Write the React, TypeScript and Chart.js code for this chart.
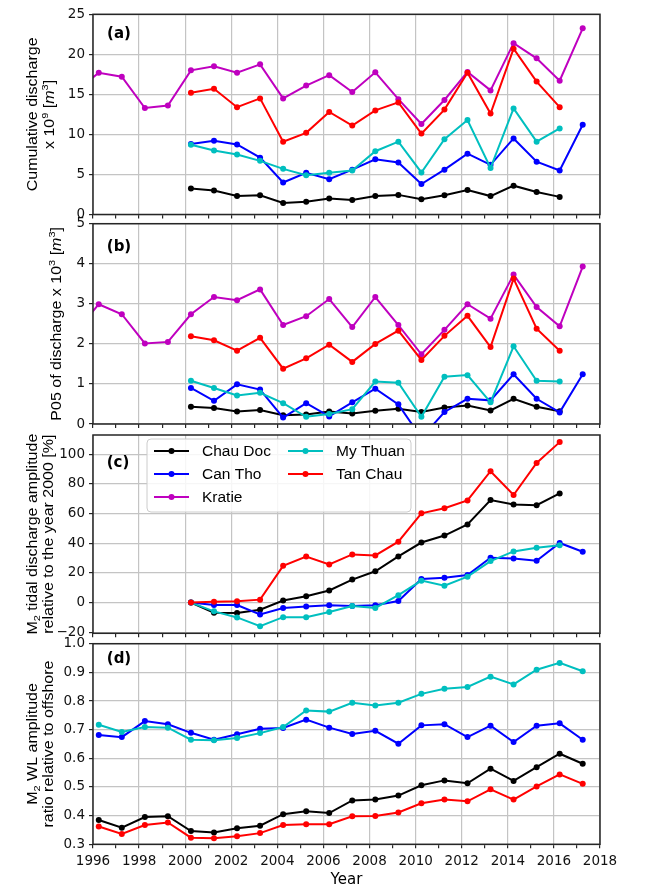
import { useEffect, useRef } from 'react';
import { Chart, registerables } from 'chart.js';

Chart.register(...registerables);

// ---------------- data ----------------
const YEARS_KRATIE = [1995, 1996, 1997, 1998, 1999, 2000, 2001, 2002, 2003, 2004, 2005, 2006, 2007, 2008, 2009, 2010, 2011, 2012, 2013, 2014, 2015, 2016, 2017];
const YEARS_2000_2016 = [2000, 2001, 2002, 2003, 2004, 2005, 2006, 2007, 2008, 2009, 2010, 2011, 2012, 2013, 2014, 2015, 2016];
const YEARS_2000_2017 = [2000, 2001, 2002, 2003, 2004, 2005, 2006, 2007, 2008, 2009, 2010, 2011, 2012, 2013, 2014, 2015, 2016, 2017];
const YEARS_1996_2017 = [1996, 1997, 1998, 1999, 2000, 2001, 2002, 2003, 2004, 2005, 2006, 2007, 2008, 2009, 2010, 2011, 2012, 2013, 2014, 2015, 2016, 2017];
const X_SHIFT = 0.25; // values are plotted a quarter year after the year start

// (a) cumulative discharge x 10^9 m^3
const KRATIE_A = [15.4, 17.7, 17.2, 13.3, 13.6, 18.0, 18.5, 17.7, 18.75, 14.5, 16.1, 17.4, 15.3, 17.75, 14.4, 11.3, 14.3, 17.8, 15.5, 21.4, 19.5, 16.7, 23.25];
const TAN_CHAU_A = [15.2, 15.7, 13.4, 14.5, 9.1, 10.2, 12.8, 11.1, 13.0, 14.0, 10.1, 13.1, 17.7, 12.6, 20.7, 16.6, 13.4];
const CAN_THO_A = [8.8, 9.2, 8.75, 7.1, 4.0, 5.2, 4.4, 5.6, 6.9, 6.5, 3.8, 5.6, 7.6, 6.2, 9.5, 6.6, 5.5, 11.2];
const MY_THUAN_A = [8.7, 8.0, 7.5, 6.7, 5.7, 4.9, 5.2, 5.5, 7.9, 9.1, 5.25, 9.4, 11.8, 5.8, 13.25, 9.1, 10.75];
const CHAU_DOC_A = [3.25, 3.0, 2.3, 2.4, 1.45, 1.6, 2.0, 1.8, 2.3, 2.45, 1.9, 2.4, 3.05, 2.3, 3.6, 2.8, 2.2];

// (b) P05 of discharge x 10^3 m^3
const KRATIE_B = [2.3, 2.99, 2.74, 2.01, 2.05, 2.74, 3.17, 3.09, 3.36, 2.47, 2.69, 3.12, 2.42, 3.17, 2.47, 1.74, 2.35, 2.99, 2.63, 3.73, 2.92, 2.44, 3.93];
const TAN_CHAU_B = [2.19, 2.09, 1.83, 2.15, 1.38, 1.64, 1.98, 1.55, 2.0, 2.33, 1.6, 2.2, 2.7, 1.92, 3.63, 2.38, 1.83];
const MY_THUAN_B = [1.08, 0.9, 0.71, 0.78, 0.52, 0.18, 0.25, 0.37, 1.06, 1.03, 0.18, 1.18, 1.22, 0.54, 1.94, 1.08, 1.06];
const CAN_THO_B = [0.9, 0.58, 0.99, 0.86, 0.16, 0.52, 0.19, 0.54, 0.88, 0.49, -0.35, 0.3, 0.63, 0.59, 1.24, 0.63, 0.29, 1.24];
const CHAU_DOC_B = [0.43, 0.4, 0.31, 0.35, 0.22, 0.24, 0.31, 0.26, 0.33, 0.38, 0.3, 0.41, 0.46, 0.34, 0.63, 0.43, 0.32];

// (c) M2 tidal discharge amplitude relative to 2000 [%]
const CHAU_DOC_C = [0, -6.8, -7.0, -4.8, 1.4, 4.3, 8.2, 15.5, 21.1, 31.1, 40.5, 45.2, 52.7, 69.1, 66.1, 65.7, 73.6];
const CAN_THO_C = [0, -1.6, -1.6, -8.0, -3.6, -2.7, -1.8, -2.3, -1.8, 1.1, 15.9, 16.8, 18.6, 30.2, 29.8, 28.2, 40.2, 34.3];
const MY_THUAN_C = [0, -5.9, -10.0, -15.9, -9.8, -9.8, -6.4, -2.3, -3.6, 5.0, 14.8, 11.4, 17.5, 28.0, 34.5, 37.0, 38.6];
const TAN_CHAU_C = [0, 0.5, 0.9, 2.0, 24.8, 31.1, 25.7, 32.5, 31.8, 41.1, 60.2, 63.6, 68.9, 88.6, 72.5, 94.1, 108.2];

// (d) M2 WL amplitude ratio relative to offshore
const MY_THUAN_D = [0.717, 0.692, 0.709, 0.707, 0.665, 0.663, 0.671, 0.688, 0.709, 0.767, 0.763, 0.794, 0.784, 0.794, 0.825, 0.843, 0.849, 0.885, 0.858, 0.909, 0.933, 0.904];
const CAN_THO_D = [0.681, 0.674, 0.730, 0.719, 0.689, 0.665, 0.684, 0.703, 0.706, 0.735, 0.707, 0.685, 0.696, 0.651, 0.715, 0.719, 0.674, 0.714, 0.657, 0.714, 0.722, 0.665];
const CHAU_DOC_D = [0.385, 0.358, 0.395, 0.398, 0.346, 0.341, 0.356, 0.365, 0.405, 0.415, 0.409, 0.453, 0.456, 0.470, 0.506, 0.523, 0.513, 0.564, 0.521, 0.569, 0.616, 0.581];
const TAN_CHAU_D = [0.362, 0.336, 0.367, 0.376, 0.323, 0.321, 0.328, 0.339, 0.367, 0.370, 0.370, 0.398, 0.399, 0.411, 0.443, 0.456, 0.450, 0.492, 0.456, 0.502, 0.544, 0.511];

// ticks
const X_TICKS = [1996, 1997, 1998, 1999, 2000, 2001, 2002, 2003, 2004, 2005, 2006, 2007, 2008, 2009, 2010, 2011, 2012, 2013, 2014, 2015, 2016, 2017, 2018];
const Y_TICKS_A = [0, 5, 10, 15, 20, 25];
const Y_TICKS_B = [0, 1, 2, 3, 4, 5];
const Y_TICKS_C = [-20, 0, 20, 40, 60, 80, 100];
const Y_TICKS_D = [0.3, 0.4, 0.5, 0.6, 0.7, 0.8, 0.9, 1.0];

// ---------------- styles / layout ----------------
const W = 652;
const H = 888;
const PLOT_LEFT = 93;
const PLOT_RIGHT = 600;
const COLORS: Record<string, string> = {
  'Chau Doc': '#000000',
  'Can Tho': '#0000ff',
  'Kratie': '#bf00bf',
  'My Thuan': '#00bfbf',
  'Tan Chau': '#ff0000',
};
const GRID = '#c4c4c4';
const FRAME = '#262626';
const TICK_FONT = { family: '"DejaVu Sans"', size: 13.5 };
const TITLE_FAMILY = '"Liberation Sans", Arial, sans-serif';

type Seg = { t: string; it?: boolean; sup?: boolean; sub?: boolean };
type Series = { name: string; years: number[]; values: number[] };
type Panel = {
  top: number;
  bottom: number;
  xAxisH: number;
  yMin: number;
  yMax: number;
  yTicks: number[];
  fmt: (v: number) => string;
  label: string;
  labelPos: [number, number];
  titleLines: Seg[][];
  titleX: number[];
  series: Series[];
  legend: boolean;
  xLabels: boolean;
};

const intFmt = (v: number) => (v < 0 ? '\u2212' + Math.abs(v) : String(v));
const oneDec = (v: number) => v.toFixed(1);

const PANELS: Panel[] = [
  {
    top: 14.3, bottom: 214.5, xAxisH: 8, yMin: 0, yMax: 25, yTicks: Y_TICKS_A, fmt: intFmt,
    label: '(a)', labelPos: [119, 34],
    titleLines: [
      [{ t: 'Cumulative discharge' }],
      [{ t: 'x 10' }, { t: '9', sup: true }, { t: ' [' }, { t: 'm', it: true }, { t: '3', sup: true }, { t: ']' }],
    ],
    titleX: [32, 48.5],
    series: [
      { name: 'Chau Doc', years: YEARS_2000_2016, values: CHAU_DOC_A },
      { name: 'Can Tho', years: YEARS_2000_2017, values: CAN_THO_A },
      { name: 'Kratie', years: YEARS_KRATIE, values: KRATIE_A },
      { name: 'My Thuan', years: YEARS_2000_2016, values: MY_THUAN_A },
      { name: 'Tan Chau', years: YEARS_2000_2016, values: TAN_CHAU_A },
    ],
    legend: false, xLabels: false,
  },
  {
    top: 223.7, bottom: 424, xAxisH: 8, yMin: 0, yMax: 5, yTicks: Y_TICKS_B, fmt: intFmt,
    label: '(b)', labelPos: [119, 247],
    titleLines: [
      [{ t: 'P05 of discharge x 10' }, { t: '3', sup: true }, { t: ' [' }, { t: 'm', it: true }, { t: '3', sup: true }, { t: ']' }],
    ],
    titleX: [56],
    series: [
      { name: 'Chau Doc', years: YEARS_2000_2016, values: CHAU_DOC_B },
      { name: 'Can Tho', years: YEARS_2000_2017, values: CAN_THO_B },
      { name: 'Kratie', years: YEARS_KRATIE, values: KRATIE_B },
      { name: 'My Thuan', years: YEARS_2000_2016, values: MY_THUAN_B },
      { name: 'Tan Chau', years: YEARS_2000_2016, values: TAN_CHAU_B },
    ],
    legend: false, xLabels: false,
  },
  {
    top: 435, bottom: 633.3, xAxisH: 8, yMin: -20.7, yMax: 113, yTicks: Y_TICKS_C, fmt: intFmt,
    label: '(c)', labelPos: [118, 463],
    titleLines: [
      [{ t: 'M' }, { t: '2', sub: true }, { t: ' tidal discharge amplitude' }],
      [{ t: 'relative to the year 2000 [%]' }],
    ],
    titleX: [31.5, 47.5],
    series: [
      { name: 'Chau Doc', years: YEARS_2000_2016, values: CHAU_DOC_C },
      { name: 'Can Tho', years: YEARS_2000_2017, values: CAN_THO_C },
      { name: 'Kratie', years: [], values: [] },
      { name: 'My Thuan', years: YEARS_2000_2016, values: MY_THUAN_C },
      { name: 'Tan Chau', years: YEARS_2000_2016, values: TAN_CHAU_C },
    ],
    legend: true, xLabels: false,
  },
  {
    top: 643.7, bottom: 844.3, xAxisH: 30, yMin: 0.3, yMax: 1.0, yTicks: Y_TICKS_D, fmt: oneDec,
    label: '(d)', labelPos: [119, 659],
    titleLines: [
      [{ t: 'M' }, { t: '2', sub: true }, { t: ' WL amplitude' }],
      [{ t: 'ratio relative to offshore' }],
    ],
    titleX: [31.5, 47.5],
    series: [
      { name: 'Chau Doc', years: YEARS_1996_2017, values: CHAU_DOC_D },
      { name: 'Can Tho', years: YEARS_1996_2017, values: CAN_THO_D },
      { name: 'My Thuan', years: YEARS_1996_2017, values: MY_THUAN_D },
      { name: 'Tan Chau', years: YEARS_1996_2017, values: TAN_CHAU_D },
    ],
    legend: false, xLabels: true,
  },
];

function drawRotatedRich(ctx: CanvasRenderingContext2D, segs: Seg[], cx: number, cy: number, size: number, squeeze: number) {
  ctx.save();
  ctx.translate(cx, cy);
  ctx.rotate(-Math.PI / 2);
  ctx.scale(1, squeeze);
  const fonts = segs.map((s) => `${s.it ? 'italic ' : ''}${s.sup || s.sub ? Math.round(size * 0.7) : size}px ${TITLE_FAMILY}`);
  const widths = segs.map((s, i) => {
    ctx.font = fonts[i];
    return ctx.measureText(s.t).width;
  });
  const total = widths.reduce((a, b) => a + b, 0);
  let x = -total / 2;
  const base = size * 0.36;
  ctx.fillStyle = '#000';
  ctx.textAlign = 'left';
  ctx.textBaseline = 'alphabetic';
  segs.forEach((s, i) => {
    ctx.font = fonts[i];
    const dy = s.sup ? -size * 0.42 : s.sub ? size * 0.24 : 0;
    ctx.fillText(s.t, x, base + dy);
    x += widths[i];
  });
  ctx.restore();
}

function makeDecor(p: Panel) {
  return {
    id: 'decor',
    afterDatasetsDraw(chart: any) {
      const ctx: CanvasRenderingContext2D = chart.ctx;
      if (p.legend) {
        const bx = 147, by = 439, bw = 264, bh = 73;
        ctx.save();
        ctx.beginPath();
        (ctx as any).roundRect(bx, by, bw, bh, 4);
        ctx.fillStyle = 'rgba(255,255,255,0.85)';
        ctx.fill();
        ctx.strokeStyle = '#cccccc';
        ctx.lineWidth = 1;
        ctx.stroke();
        const rows = [451, 474, 497];
        const cols = [{ l0: 154, l1: 189, tx: 202 }, { l0: 288, l1: 323, tx: 336 }];
        chart.data.datasets.forEach((ds: any, i: number) => {
          const col = cols[Math.floor(i / 3)];
          const y = rows[i % 3];
          ctx.strokeStyle = ds.borderColor;
          ctx.lineWidth = 2;
          ctx.beginPath();
          ctx.moveTo(col.l0, y);
          ctx.lineTo(col.l1, y);
          ctx.stroke();
          ctx.fillStyle = ds.borderColor;
          ctx.beginPath();
          ctx.arc((col.l0 + col.l1) / 2, y, 3, 0, Math.PI * 2);
          ctx.fill();
          ctx.fillStyle = '#000';
          ctx.font = `15.5px ${TITLE_FAMILY}`;
          ctx.textAlign = 'left';
          ctx.textBaseline = 'middle';
          ctx.fillText(ds.label, col.tx, y + 0.5);
        });
        ctx.restore();
      }
    },
    afterDraw(chart: any) {
      const ctx: CanvasRenderingContext2D = chart.ctx;
      const ca = chart.chartArea;
      ctx.save();
      ctx.strokeStyle = FRAME;
      ctx.lineWidth = 1.5;
      ctx.strokeRect(ca.left, ca.top, ca.right - ca.left, ca.bottom - ca.top);
      ctx.fillStyle = '#000';
      ctx.font = 'bold 15px "DejaVu Sans"';
      ctx.textAlign = 'center';
      ctx.textBaseline = 'middle';
      ctx.fillText(p.label, p.labelPos[0], p.labelPos[1]);
      const cy = (ca.top + ca.bottom) / 2;
      p.titleLines.forEach((segs, i) => drawRotatedRich(ctx, segs, p.titleX[i], cy, 16, 0.9));
      if (p.xLabels) {
        ctx.fillStyle = '#000';
        ctx.font = '15px "DejaVu Sans"';
        ctx.textAlign = 'center';
        ctx.textBaseline = 'alphabetic';
        ctx.fillText('Year', (ca.left + ca.right) / 2, 884);
      }
      ctx.restore();
    },
  };
}

function buildConfig(p: Panel): any {
  const n = p.series.length;
  const datasets = p.series.map((s, i) => ({
    label: s.name,
    data: s.years.map((yr, k) => ({ x: yr + X_SHIFT, y: s.values[k] })),
    borderColor: COLORS[s.name],
    backgroundColor: COLORS[s.name],
    pointBackgroundColor: COLORS[s.name],
    pointBorderWidth: 0,
    pointRadius: 3,
    pointHoverRadius: 3,
    borderWidth: 2,
    tension: 0,
    order: n - i,
  }));
  return {
    type: 'line',
    data: { datasets },
    plugins: [makeDecor(p)],
    options: {
      responsive: false,
      animation: false,
      events: [],
      layout: {
        padding: { left: 0, right: W - PLOT_RIGHT, top: p.top, bottom: H - p.bottom - p.xAxisH },
      },
      plugins: { legend: { display: false }, tooltip: { enabled: false }, title: { display: false } },
      scales: {
        x: {
          type: 'linear',
          min: 1996,
          max: 2018,
          afterBuildTicks: (s: any) => {
            s.ticks = X_TICKS.map((v) => ({ value: v }));
          },
          afterFit: (s: any) => {
            s.height = p.xAxisH;
          },
          border: { display: false },
          grid: {
            color: (c: any) => (c.tick && c.tick.value % 2 === 0 ? GRID : 'rgba(0,0,0,0)'),
            lineWidth: 1.2,
            tickColor: FRAME,
            tickLength: 4,
            tickWidth: 1.2,
          },
          ticks: {
            autoSkip: false,
            maxRotation: 0,
            minRotation: 0,
            padding: 5,
            color: '#111',
            font: TICK_FONT,
            callback: (v: number) => (p.xLabels && v % 2 === 0 ? String(v) : ''),
          },
        },
        y: {
          type: 'linear',
          min: p.yMin,
          max: p.yMax,
          afterBuildTicks: (s: any) => {
            s.ticks = p.yTicks.map((v) => ({ value: v }));
          },
          afterFit: (s: any) => {
            s.width = PLOT_LEFT;
          },
          border: { display: false },
          grid: {
            color: GRID,
            lineWidth: 1.2,
            tickColor: FRAME,
            tickLength: 4,
            tickWidth: 1.2,
          },
          ticks: {
            padding: 4,
            color: '#111',
            font: TICK_FONT,
            callback: (v: number) => p.fmt(v),
          },
        },
      },
    },
  };
}

function PanelChart({ panel }: { panel: Panel }) {
  const ref = useRef<HTMLCanvasElement>(null);
  useEffect(() => {
    if (!ref.current) return;
    const chart = new Chart(ref.current, buildConfig(panel));
    return () => chart.destroy();
  }, [panel]);
  return (
    <canvas
      ref={ref}
      width={W}
      height={H}
      style={{ position: 'absolute', left: 0, top: 0, width: W, height: H }}
    />
  );
}

export default function App() {
  return (
    <div style={{ position: 'absolute', left: 0, top: 0, width: W, height: H, background: '#fff', overflow: 'hidden' }}>
      {PANELS.map((p, i) => (
        <PanelChart key={i} panel={p} />
      ))}
    </div>
  );
}
